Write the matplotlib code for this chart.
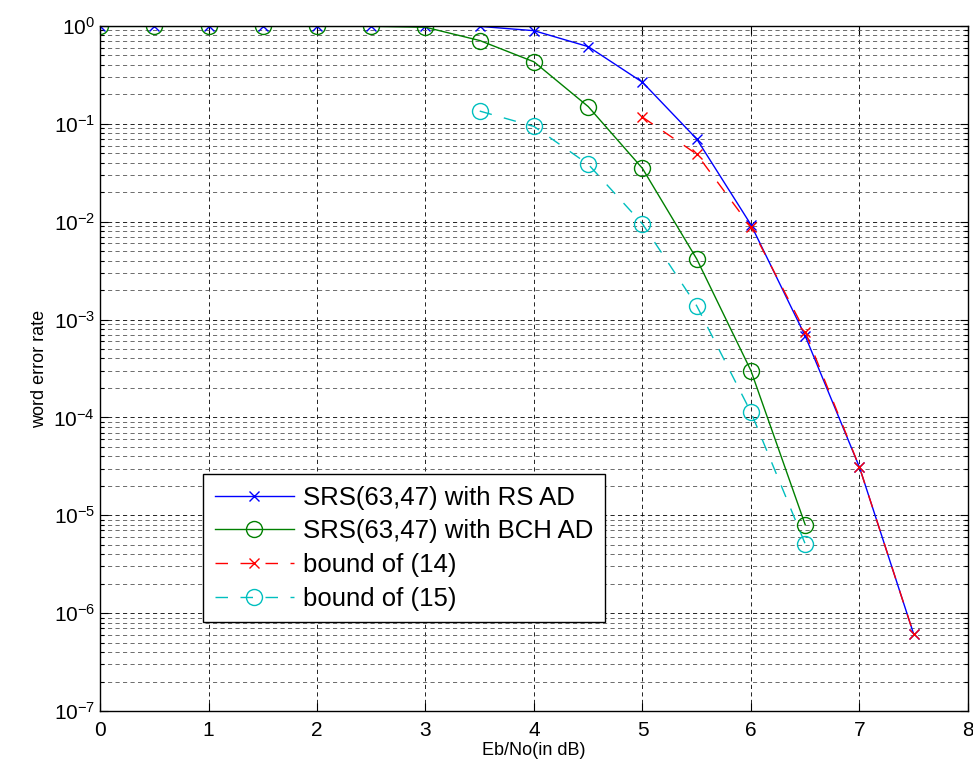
import matplotlib
matplotlib.use("Agg")
import matplotlib.pyplot as plt
import numpy as np
from matplotlib.ticker import LogLocator, NullFormatter, FixedLocator

plt.rcParams['font.family'] = ['Liberation Sans', 'DejaVu Sans']

# Data
x_rs = [0, 0.5, 1, 1.5, 2, 2.5, 3, 3.5, 4, 4.5, 5, 5.5, 6, 6.5, 7, 7.5]
wer_rs = [1.0, 1.0, 1.0, 1.0, 1.0, 1.0, 1.0, 0.99, 0.895, 0.615, 0.266, 0.070, 0.0093, 6.8e-4, 3.1e-5, 6.1e-7]

x_bch = [0, 0.5, 1, 1.5, 2, 2.5, 3, 3.5, 4, 4.5, 5, 5.5, 6, 6.5]
wer_bch = [0.99, 0.99, 0.99, 0.99, 0.99, 0.99, 0.97, 0.71, 0.43, 0.15, 0.035, 0.00416, 3.0e-4, 8.0e-6]

x_b14 = [5, 5.5, 6, 6.5, 7, 7.5]
wer_b14 = [0.117, 0.049, 0.0088, 7.5e-4, 3.1e-5, 6.1e-7]

x_b15 = [3.5, 4, 4.5, 5, 5.5, 6, 6.5]
wer_b15 = [0.135, 0.094, 0.0386, 0.0095, 0.00138, 1.13e-4, 5.1e-6]

labels = ['SRS(63,47) with RS AD', 'SRS(63,47) with BCH AD', 'bound of (14)', 'bound of (15)']
xticks = [0, 1, 2, 3, 4, 5, 6, 7, 8]

fig = plt.figure(figsize=(9.73, 7.82), dpi=100)
ax = fig.add_axes([0.1028, 0.0908, 0.892, 0.876])

dash = (0, (9, 9))
ax.semilogy(x_rs, wer_rs, '-x', color='#0000ff', lw=1.0, ms=7, mew=1.0, label=labels[0])
ax.semilogy(x_bch, wer_bch, '-o', color='#008000', lw=1.0, ms=11.5, mew=1.0, mfc='none', label=labels[1])
ax.semilogy(x_b14, wer_b14, 'x', ls=dash, color='#ff0000', lw=1.0, ms=7, mew=1.0, label=labels[2])
ax.semilogy(x_b15, wer_b15, 'o', ls=dash, color='#00bfbf', lw=1.0, ms=11.5, mew=1.0, mfc='none', label=labels[3])

ax.set_xlim(0, 8)
ax.set_ylim(1e-7, 1)
ax.xaxis.set_major_locator(FixedLocator(xticks))
ax.yaxis.set_major_locator(LogLocator(base=10, numticks=20))
ax.yaxis.set_minor_locator(LogLocator(base=10, subs=np.arange(2, 10), numticks=20))
ax.yaxis.set_minor_formatter(NullFormatter())

ax.tick_params(which='both', direction='in', top=True, right=True, labelsize=15)
ax.tick_params(which='major', length=6, width=0.8)
ax.tick_params(which='minor', length=3, width=0.8)
ax.tick_params(axis='x', pad=7)

ax.grid(which='major', axis='both', ls=(0, (5, 4)), color='black', lw=0.6)
ax.grid(which='minor', axis='y', ls=(0, (5, 4)), color='#555555', lw=0.6)
ax.set_axisbelow(True)

for s in ax.spines.values():
    s.set_linewidth(1.0)
    s.set_color('black')

ax.set_xlabel('Eb/No(in dB)', fontsize=13, labelpad=2)
ax.set_ylabel('word error rate', fontsize=13, labelpad=4)

leg = ax.legend(loc='upper left', bbox_to_anchor=(0.1187, 0.346), fontsize=18.5,
                frameon=True, fancybox=False, framealpha=1, edgecolor='black',
                handlelength=3.1, borderpad=0.45, labelspacing=0.38, handletextpad=0.35,
                borderaxespad=0)
leg.get_frame().set_linewidth(1.0)

fig.savefig('out.png', dpi=100)
